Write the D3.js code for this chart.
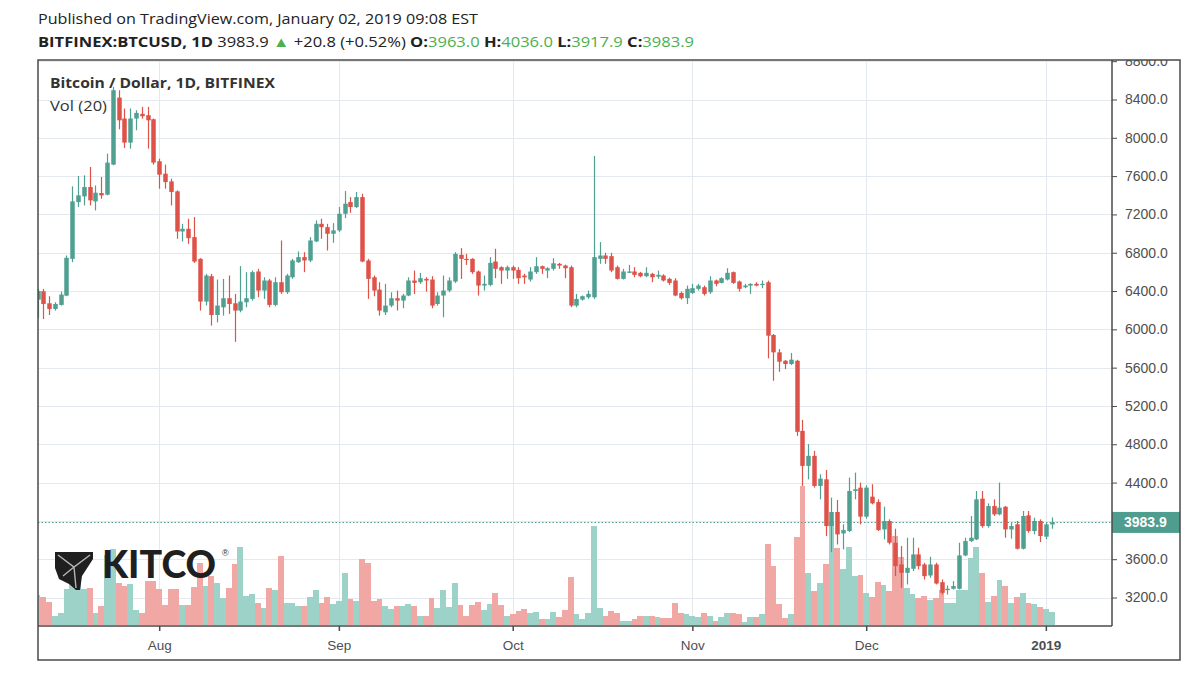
<!DOCTYPE html>
<html>
<head>
<meta charset="utf-8">
<script src="https://cdn.jsdelivr.net/npm/d3@7"></script>
<style>
  body { margin: 0; background: #fff; }
  svg { display: block; }
</style>
</head>
<body>
<div id="chart"></div>
<script>
// daily candles BITFINEX:BTCUSD, 2018-07-11 .. 2019-01-02
var startDay = "2018-07-11";

var open = [
  // Jul
  6310,6398,6272,6213,6255,6352,6736,7329,7388,7486,7336,7423,7406,7720,8420,8201,7950,8201,8250,8236,8194,
  // Aug
  7755,7625,7545,7441,7022,7050,6963,6736,6290,6555,6150,6230,6325,6272,6196,6283,6318,6604,6405,6510,6255,6492,6388,6544,6701,6754,6719,6918,7102,7067,6998,
  // Sep
  7033,7207,7329,7277,7381,6719,6544,6415,6178,6248,6325,6300,6353,6510,6492,6527,6520,6265,6353,6405,6499,6778,6736,6736,6604,6457,6464,6708,6649,6614,
  // Oct
  6649,6621,6562,6520,6597,6659,6614,6632,6684,6666,6649,6248,6311,6335,6335,6736,6771,6764,6649,6527,6590,6604,6590,6555,6579,6551,6562,6527,6510,6380,6325,
  // Nov
  6380,6423,6440,6388,6510,6485,6520,6597,6499,6440,6457,6475,6464,6492,5941,5760,5672,5638,5672,4940,4574,4679,4365,4434,3946,4093,3869,3894,4312,4347,
  // Dec
  4044,4253,4197,3911,3999,3772,3545,3458,3500,3650,3545,3430,3545,3360,3277,3291,3291,3639,3789,3807,4232,3946,4155,4068,4148,3911,3964,3709,4058,3894,3999,
  // Jan
  3835,3963
];

var high = [
  6420,6422,6346,6283,6394,6771,7493,7601,7608,7695,7503,7591,7835,8532,8497,8306,8306,8288,8323,8323,8201,
  7782,7720,7573,7451,7102,7155,7172,6743,6579,6579,6520,6527,6562,6370,6660,6597,6614,6632,6544,6527,6544,6928,6579,6736,6813,6806,6963,7137,7155,7102,7109,
  7277,7444,7381,7434,7416,6736,6562,6492,6475,6387,6405,6370,6544,6614,6590,6544,6555,6387,6562,6544,6806,6848,6788,6743,6614,6562,6754,6841,6659,6666,
  6666,6649,6580,6649,6754,6666,6649,6743,6694,6675,6666,6370,6353,6405,7810,6911,6799,6799,6666,6632,6673,6649,6600,6649,6590,6614,6575,6540,6534,6395,6457,
  6475,6475,6457,6555,6520,6544,6638,6604,6510,6475,6480,6492,6510,6509,5951,5794,5680,5753,5683,5055,4801,4731,4487,4532,4243,4218,3964,4452,4504,4400,
  4372,4382,4225,4148,4016,3918,3737,3824,3824,3720,3563,3625,3563,3388,3325,3371,3772,3824,4051,4312,4312,4183,4225,4400,4155,3981,3999,4103,4103,4033,4016,
  3981,4036
];

var low = [
  6120,6108,6150,6196,6248,6346,6701,7277,7294,7294,7242,7364,7399,7713,8089,7894,7887,8079,8200,7887,7720,
  7469,7469,7294,6945,6918,6893,6694,6196,6250,6039,6073,6143,6161,5870,6178,6231,6300,6335,6318,6231,6241,6370,6370,6527,6694,6597,6701,6911,6945,6823,6904,
  7015,7162,7217,7266,6701,6318,6346,6143,6150,6231,6196,6220,6346,6370,6475,6394,6220,6248,6126,6387,6485,6527,6673,6579,6353,6405,6450,6534,6475,6527,
  6527,6475,6475,6499,6579,6579,6534,6614,6632,6534,6231,6231,6300,6318,6318,6684,6684,6597,6520,6520,6590,6544,6544,6544,6492,6527,6499,6464,6346,6311,6265,
  6370,6405,6353,6370,6450,6480,6510,6475,6394,6430,6370,6450,6430,5697,5463,5557,5585,5627,4888,4365,4434,4347,4225,3841,3674,3754,3702,3883,4225,3964,
  4023,4173,3894,3807,3754,3423,3301,3336,3476,3493,3388,3406,3336,3231,3231,3284,3284,3632,3779,3800,3929,3929,4051,4058,3824,3814,3702,3702,3876,3859,3779,
  3807,3918
];

var close = [
  6400,6265,6213,6265,6363,6747,7336,7399,7486,7347,7427,7399,7741,8497,8183,7950,8201,8260,8225,8183,7741,
  7615,7538,7434,7022,7050,6952,6708,6290,6562,6150,6248,6325,6265,6196,6290,6325,6597,6405,6510,6255,6492,6388,6562,6719,6754,6719,6928,7102,7067,6998,7033,
  7207,7312,7277,7381,6708,6527,6405,6196,6248,6325,6300,6353,6510,6485,6534,6510,6248,6353,6405,6510,6788,6736,6725,6597,6457,6475,6694,6632,6614,6649,
  6614,6534,6544,6604,6659,6632,6638,6690,6666,6638,6248,6318,6346,6370,6754,6771,6736,6614,6527,6604,6604,6569,6555,6590,6544,6569,6510,6485,6353,6325,6423,
  6430,6457,6370,6510,6475,6534,6590,6485,6423,6457,6475,6457,6475,5934,5760,5662,5638,5683,4930,4574,4679,4365,4441,3946,4093,3859,3904,4312,4330,4044,
  4347,4183,3904,3999,3772,3528,3458,3510,3650,3528,3423,3545,3346,3249,3291,3319,3639,3789,3824,4225,3946,4155,4068,4138,3911,3946,3709,4051,3894,3999,3842,
  3963,3983.9
];

var volume = [
  30,28,23,9,12,36,58,42,36,37,12,19,70,76,42,39,41,15,12,44,44,
  36,20,36,36,20,20,38,62,39,49,42,27,37,61,78,29,31,22,17,37,35,69,22,22,19,19,28,35,22,28,21,
  24,52,26,24,66,62,24,26,19,16,19,19,21,19,9,9,27,17,35,18,42,20,9,20,23,15,21,32,20,9,
  11,14,16,12,13,6,6,13,8,15,48,11,6,12,99,17,9,14,12,4,4,6,9,9,9,8,7,7,22,12,11,
  9,8,12,9,4,8,12,12,11,3,8,8,11,81,59,21,7,11,88,139,52,34,42,61,103,77,56,78,49,50,
  32,28,43,40,34,89,68,37,31,27,29,25,27,35,22,22,35,35,67,78,52,23,29,45,39,22,28,32,22,21,18,
  16,13
];

var priceTicks = [3200,3600,4000,4400,4800,5200,5600,6000,6400,6800,7200,7600,8000,8400,8800];
var priceLabelTicks = [3200,3600,4400,4800,5200,5600,6000,6400,6800,7200,7600,8000,8400,8800];
var monthTicks = ["2018-08-01","2018-09-01","2018-10-01","2018-11-01","2018-12-01","2019-01-01"];
var monthLabels = ["Aug","Sep","Oct","Nov","Dec","2019"];
var lastPrice = 3983.9;

var upColor = "#50a092", downColor = "#de5349";
var upVol = "#9dd2c9", downVol = "#f1a8a4";
var gridColor = "#e4e9f0", frameColor = "#4a4a4a", axisText = "#4f4f4f";

var svgWidth = 1200, svgHeight = 682;
var plot = {left: 38, right: 1112, top: 60, bottom: 626};
var frame = {right: 1180, bottom: 660};

var svg = d3.select("#chart").append("svg")
    .attr("width", svgWidth)
    .attr("height", svgHeight)
    .style("font-family", "'Liberation Sans', Arial, sans-serif");

var first = new Date(startDay + "T00:00:00Z");
var days = d3.utcDay.range(first, d3.utcDay.offset(first, open.length));
var bars = days.map(function (d, i) {
    return {date: d, open: open[i], high: high[i], low: low[i], close: close[i], volume: volume[i]};
});

var xScale = d3.scaleUtc()
    .domain([new Date(Date.UTC(2018, 6, 11, 2)), new Date(Date.UTC(2019, 0, 12, 10))])
    .range([plot.left, plot.right]);
var yScale = d3.scaleLinear().domain([3200, 8400]).range([597.5, 99.5]);
var vScale = d3.scaleLinear().domain([0, d3.max(volume)]).range([625, 486]);
var step = xScale(days[1]) - xScale(days[0]);

var defs = svg.append("defs");
defs.append("clipPath").attr("id", "plotClip")
    .append("rect")
    .attr("x", plot.left).attr("y", plot.top)
    .attr("width", plot.right - plot.left).attr("height", plot.bottom - plot.top);
defs.append("clipPath").attr("id", "axisClip")
    .append("rect")
    .attr("x", plot.right).attr("y", plot.top)
    .attr("width", frame.right - plot.right).attr("height", frame.bottom - plot.top);

// grid
var grid = svg.append("g").attr("clip-path", "url(#plotClip)").attr("shape-rendering", "crispEdges");
grid.selectAll(".hgrid").data(priceTicks).enter().append("line")
    .attr("x1", plot.left).attr("x2", plot.right)
    .attr("y1", d => Math.round(yScale(d)) + 0.5).attr("y2", d => Math.round(yScale(d)) + 0.5)
    .attr("stroke", gridColor);
grid.selectAll(".vgrid").data(monthTicks).enter().append("line")
    .attr("x1", d => Math.round(xScale(new Date(d))) + 0.5).attr("x2", d => Math.round(xScale(new Date(d))) + 0.5)
    .attr("y1", plot.top).attr("y2", plot.bottom)
    .attr("stroke", gridColor);

var chartGroup = svg.append("g").attr("clip-path", "url(#plotClip)");

// volume
chartGroup.append("g").attr("shape-rendering", "crispEdges")
    .selectAll("rect").data(bars).enter().append("rect")
    .attr("x", d => xScale(d.date) - step / 2)
    .attr("width", step)
    .attr("y", d => vScale(d.volume))
    .attr("height", d => vScale(0) - vScale(d.volume))
    .attr("fill", d => d.close >= d.open ? upVol : downVol);

// KITCO watermark
var logo = svg.append("g").attr("transform", "translate(55,552)");
logo.append("path")
    .attr("d", "M0,0 L38,0 L38,7 L27,24 L25,38 L21,38 L14,32 L4,27 L0,16 Z")
    .attr("fill", "#1f1f1f");
logo.append("path")
    .attr("d", "M3,3 L19,15 L35,3 M19,15 L21,36 M19,15 L8,24")
    .attr("fill", "none").attr("stroke", "#b5b5b5").attr("stroke-width", 1.4);
logo.append("text")
    .attr("x", 47).attr("y", 26)
    .attr("font-family", "Lato, 'Open Sans', sans-serif")
    .attr("font-weight", 900)
    .attr("font-size", 37)
    .attr("textLength", 114).attr("lengthAdjust", "spacingAndGlyphs")
    .attr("fill", "#1f1f1f")
    .text("KITCO");
logo.append("text")
    .attr("x", 167).attr("y", 4)
    .attr("font-size", 9).attr("fill", "#333")
    .text("®");

// price line
chartGroup.append("line")
    .attr("x1", plot.left).attr("x2", plot.right)
    .attr("y1", Math.round(yScale(lastPrice)) + 0.5).attr("y2", Math.round(yScale(lastPrice)) + 0.5)
    .attr("stroke", upColor).attr("stroke-width", 1.2)
    .attr("stroke-dasharray", "1.5,2");

// candles
var candles = chartGroup.append("g")
    .selectAll("g").data(bars).enter().append("g");
candles.append("line")
    .attr("x1", d => Math.round(xScale(d.date)) + 0.5)
    .attr("x2", d => Math.round(xScale(d.date)) + 0.5)
    .attr("y1", d => yScale(d.high))
    .attr("y2", d => yScale(d.low))
    .attr("stroke", d => d.close >= d.open ? upColor : downColor)
    .attr("stroke-width", 1.2);
candles.append("rect")
    .attr("x", d => Math.round(xScale(d.date)) - 1.75)
    .attr("width", 4.5)
    .attr("y", d => yScale(Math.max(d.open, d.close)))
    .attr("height", d => Math.max(1.2, Math.abs(yScale(d.open) - yScale(d.close))))
    .attr("fill", d => d.close >= d.open ? upColor : downColor);

// price axis (right)
var rightAxis = d3.axisRight(yScale)
    .tickValues(priceLabelTicks)
    .tickFormat(d3.format(".1f"))
    .tickSize(5)
    .tickPadding(8);
var yAxisG = svg.append("g")
    .attr("clip-path", "url(#axisClip)")
    .append("g")
    .attr("transform", `translate(${plot.right}, 0)`)
    .call(rightAxis);
yAxisG.select(".domain").remove();
yAxisG.selectAll("line").attr("stroke", frameColor);
yAxisG.selectAll("text").attr("font-size", 14).attr("fill", axisText)
    .attr("font-family", "'Liberation Sans', Arial, sans-serif");

// time axis (bottom)
var bottomAxis = d3.axisBottom(xScale)
    .tickValues(monthTicks.map(d => new Date(d + "T00:00:00Z")))
    .tickFormat((d, i) => monthLabels[i])
    .tickSize(5)
    .tickPadding(9);
var xAxisG = svg.append("g")
    .attr("transform", `translate(0, ${plot.bottom})`)
    .call(bottomAxis);
xAxisG.select(".domain").remove();
xAxisG.selectAll("line").attr("stroke", frameColor).attr("stroke-width", 1.5);
xAxisG.selectAll("text").attr("font-size", 13.5).attr("fill", axisText)
    .attr("font-family", "'Liberation Sans', Arial, sans-serif")
    .attr("font-weight", (d, i) => monthLabels[i] === "2019" ? "bold" : "normal");

// last price tag
var tagY = yScale(lastPrice);
svg.append("rect")
    .attr("x", plot.right).attr("y", tagY - 10.5)
    .attr("width", frame.right - plot.right).attr("height", 21)
    .attr("fill", "#4f9d8f");
svg.append("text")
    .attr("x", plot.right + 12).attr("y", tagY + 5)
    .attr("font-size", 14).attr("font-weight", "bold").attr("fill", "#fff")
    .text(d3.format(".1f")(lastPrice));

// frame
var frameG = svg.append("g").attr("stroke", frameColor).attr("stroke-width", 1.5).attr("fill", "none");
frameG.append("rect")
    .attr("x", plot.left).attr("y", plot.top)
    .attr("width", frame.right - plot.left).attr("height", frame.bottom - plot.top);
frameG.append("line").attr("x1", plot.right).attr("x2", plot.right).attr("y1", plot.top).attr("y2", plot.bottom);
frameG.append("line").attr("x1", plot.left).attr("x2", plot.right).attr("y1", plot.bottom).attr("y2", plot.bottom);

// legend texts in the pane
svg.append("text")
    .attr("x", 50).attr("y", 88)
    .attr("font-family", "'Open Sans', sans-serif")
    .attr("font-size", 14).attr("font-weight", "bold").attr("fill", "#333")
    .attr("textLength", 225).attr("lengthAdjust", "spacingAndGlyphs")
    .text("Bitcoin / Dollar, 1D, BITFINEX");
svg.append("text")
    .attr("x", 50).attr("y", 111)
    .attr("font-family", "'Open Sans', sans-serif")
    .attr("font-size", 14).attr("fill", "#333")
    .attr("textLength", 57).attr("lengthAdjust", "spacingAndGlyphs")
    .text("Vol (20)");

// header
var green = "#4caf50";
svg.append("text")
    .attr("x", 38).attr("y", 24)
    .attr("font-family", "'Open Sans', sans-serif")
    .attr("font-size", 14.5).attr("fill", "#222")
    .attr("textLength", 440).attr("lengthAdjust", "spacingAndGlyphs")
    .text("Published on TradingView.com, January 02, 2019 09:08 EST");

var h2 = svg.append("text")
    .attr("x", 38).attr("y", 47)
    .attr("font-family", "'Open Sans', sans-serif")
    .attr("font-size", 14.5).attr("fill", "#222")
    .attr("textLength", 656).attr("lengthAdjust", "spacingAndGlyphs");
var parts = [
    ["BITFINEX:BTCUSD, 1D ", "bold", "#222"],
    [" 3983.9 ", "normal", "#222"],
    ["▲", "normal", green],
    [" +20.8 (+0.52%) ", "normal", "#222"],
    ["O:", "bold", "#222"], ["3963.0 ", "normal", green],
    ["H:", "bold", "#222"], ["4036.0 ", "normal", green],
    ["L:", "bold", "#222"], ["3917.9 ", "normal", green],
    ["C:", "bold", "#222"], ["3983.9", "normal", green]
];
h2.selectAll("tspan").data(parts).enter().append("tspan")
    .attr("font-weight", d => d[1])
    .attr("fill", d => d[2])
    .text(d => d[0]);
</script>
</body>
</html>
